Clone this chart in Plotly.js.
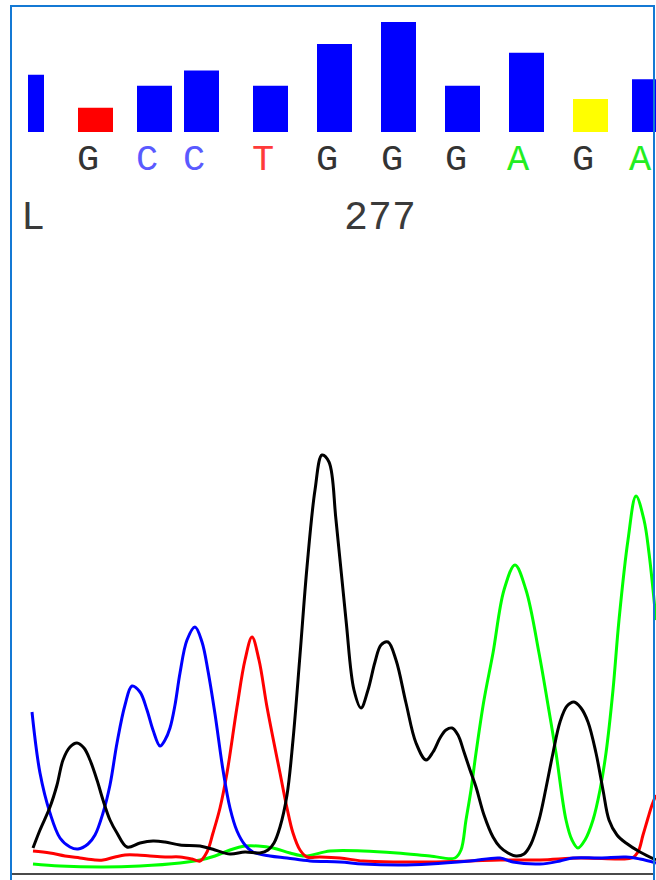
<!DOCTYPE html>
<html>
<head>
<meta charset="utf-8">
<script src="https://cdn.plot.ly/plotly-3.0.1.min.js"></script>
<style>html,body{margin:0;padding:0;background:#fff}#chart{width:656px;height:880px}</style>
</head>
<body>
<div id="chart"></div>
<script>
// ---- Data ----
// Quality bars (one per called base)
const barPos = [26.5, 95.5, 154.5, 201.5, 270.5, 334.5, 398.5, 462.5, 526.5, 590.5, 649.5];
const quality = [26, 11, 21, 28, 21, 40, 50, 21, 36, 15, 24];

// Base calls
const baseCalls = ['G', 'C', 'C', 'T', 'G', 'G', 'G', 'A', 'G', 'A'];
const basePos = [88, 147, 194, 263, 327, 392, 456, 518, 583, 640];

// Position labels
const posLabels = ['L', '277'];
const posLabelX = [33, 380];

// Chromatogram channels (scan position, signal)
const cScan = [32,40,50,60,70,78,88,95,103,110,117,125,132,140,147,153,160,165,170,175,180,187,195,202,208,215,223,230,237,245,253,270,287,310,340,363,400,430,470,500,513,540,560,573,600,626,640,656];
const cSignal = [162,101,61,36,27,25,30,39,61,89,131,169,188,182,164,144,128,134,146,169,201,234,247,232,203,160,104,66,43,29,22,18,16,13,12,10,9,10,13,16,12,10,13,16,16,17,15,11];

const gScan = [33,40,50,57,63,70,77,84,90,97,103,110,117,127,140,153,165,180,200,215,230,245,260,268,274,280,287,293,300,307,315,322,329,336,346,354,361,368,375,381,388,396,406,416,426,433,440,446,452,458,464,470,476,484,493,500,508,516,524,531,539,546,553,560,567,574,581,588,596,603,609,617,626,640,656];
const gSignal = [26,44,67,89,114,127,131,126,114,94,74,54,41,27,31,33,32,29,28,24,20,22,21,24,31,47,79,134,219,307,384,419,412,354,254,184,166,184,212,229,232,214,171,131,114,122,136,144,146,139,122,104,87,59,37,27,21,18,20,30,54,86,121,152,168,172,166,152,121,84,54,39,31,22,14];

const tScan = [33,50,65,80,95,103,115,125,137,150,165,180,192,200,207,213,220,227,237,245,252,259,267,280,287,293,300,307,320,340,363,400,430,470,500,540,580,620,632,638,643,648,652,656];
const tSignal = [23,21,18,16,14,14,17,19,19,18,17,17,15,13,22,41,66,101,167,214,237,214,167,101,66,41,24,17,17,16,13,12,12,13,14,14,16,15,16,22,39,56,69,79];

const aScan = [33,60,103,140,180,200,215,230,245,258,273,290,305,330,363,397,430,455,461,466,471,476,484,493,504,515,526,539,548,556,566,572,578,585,593,600,606,613,619,628,636,644,649,656];
const aSignal = [10,8,7,8,11,14,18,24,28,28,26,21,18,23,23,21,18,16,24,54,84,121,174,221,284,309,284,221,169,121,54,34,26,34,54,84,121,184,254,334,378,354,321,254];

// ---- Styling / build ----
const W = 656, H = 880;
const baseColor = {A: '#22ee22', C: '#5a5aff', G: '#333333', T: '#ff3a3a'};
const qColor = q => q < 12 ? '#ff0000' : (q < 20 ? '#ffff00' : '#0000ff');

function channel(x, y, color) {
  return {type: 'scatter', mode: 'lines', x: x, y: y, xaxis: 'x', yaxis: 'y',
    line: {color: color, width: 3, shape: 'spline', smoothing: 1}, hoverinfo: 'skip', showlegend: false};
}

const traces = [
  channel(aScan, aSignal, '#00ff00'),
  channel(tScan, tSignal, '#ff0000'),
  channel(cScan, cSignal, '#0000ff'),
  channel(gScan, gSignal, '#000000'),
  {type: 'bar', x: barPos, y: quality, width: 35, xaxis: 'x2', yaxis: 'y2',
   marker: {color: quality.map(qColor), line: {width: 0}}, hoverinfo: 'skip', showlegend: false}
];

const annotations = [];
baseCalls.forEach((b, i) => annotations.push({
  x: basePos[i], xref: 'x', y: 1 - 160 / H, yref: 'paper', text: b, showarrow: false,
  xanchor: 'center', yanchor: 'middle',
  font: {family: 'Liberation Mono, Courier New, monospace', size: 37, color: baseColor[b]}
}));
posLabels.forEach((t, i) => annotations.push({
  x: posLabelX[i], xref: 'x', y: 1 - 218 / H, yref: 'paper', text: t, showarrow: false,
  xanchor: 'center', yanchor: 'middle',
  font: {family: 'Liberation Mono, Courier New, monospace', size: 40, color: '#3a3a3a'}
}));

const hidden = {showgrid: false, zeroline: false, showticklabels: false, showline: false, ticks: '', fixedrange: true};
const px = v => v / W, py = v => 1 - v / H;

const layout = {
  width: W, height: H, margin: {l: 0, r: 0, t: 0, b: 0},
  paper_bgcolor: '#ffffff', plot_bgcolor: 'rgba(0,0,0,0)', showlegend: false,
  xaxis: Object.assign({range: [0, W], domain: [0, 1], anchor: 'y'}, hidden),
  yaxis: Object.assign({range: [-6, 624], domain: [0, 1 - 250 / H], anchor: 'x'}, hidden),
  xaxis2: Object.assign({range: [28, W], domain: [28 / W, 1], anchor: 'y2'}, hidden),
  yaxis2: Object.assign({range: [0, 60], domain: [1 - 132 / H, 1], anchor: 'x2'}, hidden),
  annotations: annotations,
  shapes: [
    {type: 'line', xref: 'x', yref: 'y', x0: 11, x1: 654, y0: 0, y1: 0,
     line: {color: '#4a4a4a', width: 2.2}, layer: 'above'},
    {type: 'path', xref: 'paper', yref: 'paper',
     path: 'M ' + px(11) + ',0 L ' + px(11) + ',' + py(6) + ' L ' + px(654) + ',' + py(6) + ' L ' + px(654) + ',0',
     line: {color: '#1479d4', width: 2}, layer: 'above'}
  ]
};

Plotly.newPlot('chart', traces, layout, {displayModeBar: false, staticPlot: true});
</script>
</body>
</html>
